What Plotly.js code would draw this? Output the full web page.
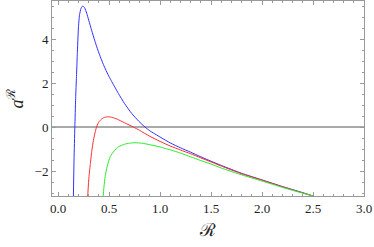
<!DOCTYPE html>
<html><head><meta charset="utf-8">
<script src="https://cdn.plot.ly/plotly-3.0.1.min.js"></script>
<style>html,body{margin:0;padding:0;background:#fff}#plot{width:374px;height:247px}</style>
</head><body><div id="plot"></div>
<script>
const blueX = [0.149,0.156,0.164,0.172,0.180,0.188,0.199,0.21,0.225,0.242,0.26,0.28,0.30,0.33,0.36,0.39,0.42,0.45,0.49,0.52,0.591,0.65,0.722,0.79,0.853,0.9,1.0,1.1,1.2,1.3,1.4,1.5,1.6,1.8,2.0,2.2,2.4,2.5];
const blueY = [-3.4,-1.5,0,1.3,2.3,3.3,4.5,5.1,5.4,5.5,5.42,5.18,4.86,4.38,3.92,3.5,3.12,2.78,2.38,2.12,1.53,1.08,0.62,0.27,0.0,-0.17,-0.45,-0.72,-0.94,-1.14,-1.35,-1.55,-1.74,-2.1,-2.4,-2.7,-2.98,-3.13];
const redX = [0.287,0.30,0.315,0.33,0.346,0.365,0.38,0.40,0.43,0.46,0.494,0.53,0.58,0.65,0.74,0.8,0.9,1.0,1.1,1.2,1.3,1.4,1.5,1.6,1.8,2.0,2.2,2.4,2.5];
const redY = [-3.4,-2.4,-1.7,-1.1,-0.6,-0.2,0.05,0.24,0.38,0.45,0.47,0.44,0.36,0.2,0.0,-0.15,-0.42,-0.65,-0.86,-1.04,-1.21,-1.4,-1.58,-1.77,-2.12,-2.41,-2.71,-2.99,-3.13];
const greenX = [0.437,0.45,0.461,0.48,0.51,0.55,0.59,0.65,0.70,0.755,0.82,0.9,1.0,1.05,1.1,1.2,1.3,1.4,1.5,1.6,1.8,2.0,2.2,2.4,2.5];
const greenY = [-3.4,-2.7,-2.26,-1.8,-1.35,-1.08,-0.9,-0.78,-0.73,-0.71,-0.73,-0.8,-0.9,-0.97,-1.03,-1.18,-1.35,-1.52,-1.68,-1.86,-2.17,-2.45,-2.74,-3.0,-3.13];
const xTickVals = [0,0.5,1,1.5,2,2.5,3];
const xTickText = ['0.0','0.5','1.0','1.5','2.0','2.5','3.0'];
const yTickVals = [-2,0,2,4];
const yTickText = ['\u22122','0','2','4'];

const serif = "Liberation Serif, DejaVu Serif, serif";
const lineFont = {family:serif, size:13, color:'#222'};
const traces = [
  {x:blueX, y:blueY, mode:'lines', line:{color:'rgb(50,50,255)', width:1, shape:'spline', smoothing:0.5}},
  {x:redX, y:redY, mode:'lines', line:{color:'rgb(255,45,45)', width:1, shape:'spline', smoothing:0.5}},
  {x:greenX, y:greenY, mode:'lines', line:{color:'rgb(40,235,40)', width:1, shape:'spline', smoothing:0.5}}
];
const axisCommon = {
  showgrid:false, showline:true, linecolor:'#999', linewidth:1, mirror:'ticks',
  ticks:'inside', ticklen:4, tickcolor:'#999', tickwidth:1, tickfont:lineFont
};
const layout = {
  width:374, height:247, showlegend:false,
  margin:{l:52, r:10, t:1, b:51},
  paper_bgcolor:'#fff', plot_bgcolor:'#fff',
  xaxis: Object.assign({}, axisCommon, {
    range:[-0.06,3.0], tickvals:xTickVals, ticktext:xTickText, zeroline:false,
    minor:{dtick:0.1, ticks:'inside', ticklen:2, tickcolor:'#999', showgrid:false},
    title:{text:'\u211B', font:{family:serif, size:18, color:'#222'}, standoff:8}
  }),
  yaxis: Object.assign({}, axisCommon, {
    range:[-3.13,5.73], tickvals:yTickVals, ticktext:yTickText,
    zeroline:true, zerolinecolor:'#aaa', zerolinewidth:1.3,
    minor:{dtick:0.5, ticks:'inside', ticklen:2, tickcolor:'#999', showgrid:false},
    title:{text:'<i>a</i><sup>\u211B</sup>', font:{family:serif, size:18, color:'#222'}, standoff:6}
  })
};
Plotly.newPlot('plot', traces, layout, {staticPlot:true, displayModeBar:false});
</script></body></html>
